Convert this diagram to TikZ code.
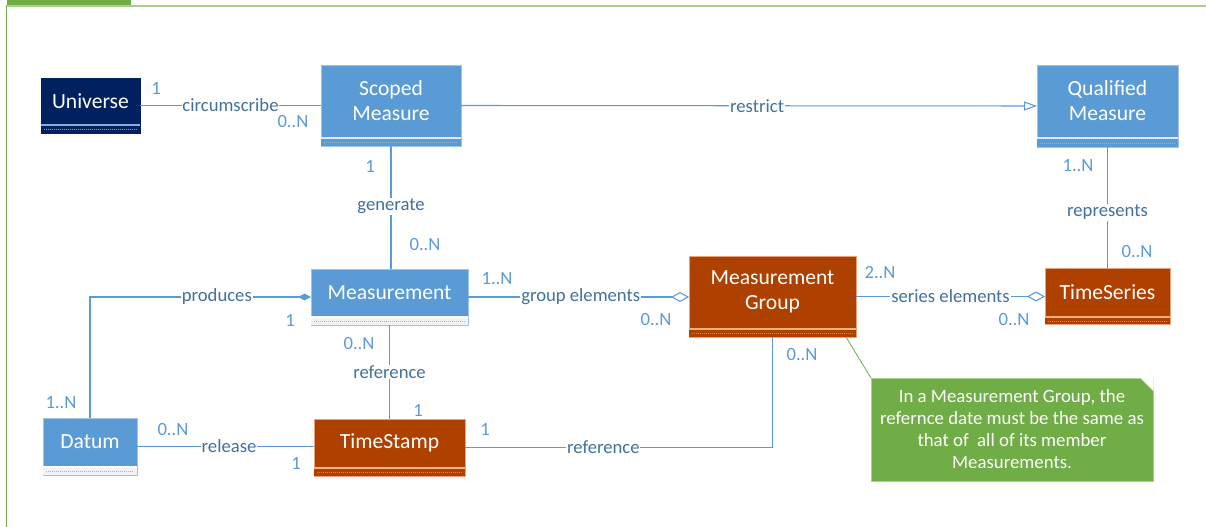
\documentclass[tikz,border=0pt]{standalone}
\usepackage{fontspec}
\setmainfont{Carlito}
\usetikzlibrary{arrows.meta,fit,calc}
\definecolor{lineBlue}{HTML}{5B9BD5}
\definecolor{relText}{HTML}{41719C}
\definecolor{multBlue}{HTML}{5B9BD5}
\definecolor{frameGreen}{HTML}{70AD47}
\definecolor{frameLight}{HTML}{A9D18E}
\definecolor{noteGreen}{HTML}{70AD47}
% navy class
\definecolor{nvBody}{HTML}{002060}
\definecolor{nvStrip}{HTML}{002060}
\definecolor{nvSep}{HTML}{8FAADC}
\definecolor{nvDot}{HTML}{8497B0}
\definecolor{nvEdge}{HTML}{002060}
% blue class, blue strip
\definecolor{blBody}{HTML}{5B9BD5}
\definecolor{blStrip}{HTML}{5B9BD5}
\definecolor{blSep}{HTML}{DEEBF7}
\definecolor{blDot}{HTML}{8FB8E0}
\definecolor{blEdge}{HTML}{9DC3E6}
% blue class, grey strip
\definecolor{bgBody}{HTML}{5B9BD5}
\definecolor{bgStrip}{HTML}{F2F2F2}
\definecolor{bgSep}{HTML}{FFFFFF}
\definecolor{bgDot}{HTML}{9DB9DA}
\definecolor{bgEdge}{HTML}{9DC3E6}
% brown class
\definecolor{brBody}{HTML}{AE4100}
\definecolor{brStrip}{HTML}{AE4100}
\definecolor{brSep}{HTML}{F4B183}
\definecolor{brDot}{HTML}{B98A72}
\definecolor{brEdge}{HTML}{E9A27A}
\tikzset{
  boxfill/.style={inner sep=0pt, outer sep=0pt, line width=0.5pt},
  boxtext/.style={inner sep=0pt, outer sep=0pt, text=white, align=center,
    font=\fontsize{16.2}{18.75}\selectfont},
  conn/.style={draw=lineBlue, line width=0.8pt},
  rel/.style={fill=white, text=relText, inner sep=0.6pt,
    font=\fontsize{14}{16}\selectfont},
  mult/.style={text=multBlue, inner sep=0pt, font=\fontsize{14}{16}\selectfont},
  notebox/.style={fill=noteGreen, draw=frameLight, line width=0.5pt, inner sep=0pt,
    outer sep=0pt, text=white, align=center, font=\fontsize{14.1}{16.5}\selectfont},
  noteline/.style={draw=frameGreen, line width=0.6pt},
  opentri/.style={-{Triangle[open, length=9.75pt, width=6.75pt, fill=white]}},
  opendia/.style={-{Diamond[open, length=13.5pt, width=7.5pt, fill=white]}},
  filldia/.style={-{Diamond[length=9.75pt, width=5pt]}},
}
% #1 name, #2 x1, #3 x2, #4 top, #5 body bottom, #6 strip bottom, #7 kind, #8 text
\newcommand{\umlbox}[8]{%
  \node[boxfill, fill=#7Body, draw=#7Edge, fit={(#2,#4)(#3,#6)}] (#1) {};
  \fill[#7Strip] (#2,#5+2) rectangle (#3,#6);
  \draw[#7Sep, line width=1.2pt] (#2,#5+1) -- (#3,#5+1);
  \draw[#7Dot, densely dotted, line width=0.5pt] (#2+3,{(#5+2+#6)/2}) -- (#3-3,{(#5+2+#6)/2});
  \node[boxtext] (#1T) at ({(#2+#3)/2},{(#4+#5)/2}) {#8};
}
\begin{document}
\begin{tikzpicture}[x=0.75pt, y=-0.75pt]
\useasboundingbox (0,0) rectangle (1206,527);
% frame
\fill[frameGreen] (7,0) rectangle (131,5);
\draw[frameLight, line width=1.4pt] (7,5.7) -- (1206,5.7);
\draw[frameGreen, line width=1.1pt] (6.5,5) -- (6.5,527);

% classes
\umlbox{un}{41}{140}{78}{124}{133}{nv}{Universe}
\umlbox{sm}{321}{461}{65}{137}{146}{bl}{Scoped\\Measure}
\umlbox{qm}{1037}{1178}{65}{137}{147}{bl}{Qualified\\Measure}
\umlbox{me}{311}{468}{269}{316}{325}{bg}{Measurement}
\umlbox{da}{43}{137}{418}{466}{475}{bg}{Datum}
\umlbox{tst}{314}{465}{419}{467}{476}{br}{TimeStamp}
\umlbox{mg}{689}{856}{256}{328}{337}{br}{Measurement\\Group}
\umlbox{ts}{1045}{1170}{268}{316}{324}{br}{TimeSeries}

% note
\node[notebox, minimum width=211.5pt, minimum height=77.25pt] (note) at (1012,429.5)
  {In a Measurement Group, the\\refernce date must be the same as\\that of \ all of its member\\Measurements.};
\fill[white] (1140,377.5) -- (1153.5,377.5) -- (1153.5,391) -- cycle;
\draw[frameLight, line width=0.5pt] (1140,378) -- (1153,391);
\coordinate (mgC) at (846,337);
\draw[noteline] (mgC) -- (note.north west);

% connectors
\draw[conn] (un.east) -- node[rel]{circumscribe} (sm.west);
\draw[conn, opentri] (sm.east) -- node[rel, pos=0.514]{restrict} (qm.west);
\draw[conn] (sm.south) -- node[rel, pos=0.49]{generate} (sm.south |- me.north);
\draw[conn] (qm.south) -- node[rel, pos=0.54]{represents} (qm.south |- ts.north);
\draw[conn, opendia] (me.east) -- node[rel, pos=0.51]{group elements} (me.east -| mg.west);
\draw[conn, opendia] (mg.east) -- node[rel]{series elements} (mg.east -| ts.west);
\draw[conn, filldia] (da.north) |- node[rel, pos=0.787]{produces} (me.west);
\draw[conn] (me.south) -- node[rel]{reference} (me.south |- tst.north);
\draw[conn] (da.east) -- node[rel, pos=0.52]{release} (da.east -| tst.west);
\draw[conn] (tst.east) -| node[rel, pos=0.225]{reference} (mg.south);

% multiplicities
\node[mult] (m1) at (156,88) {1};
\node[mult] (m2) at (293,122) {0..N};
\node[mult] (m3) at (370,166) {1};
\node[mult] (m4) at (425,245) {0..N};
\node[mult] (m5) at (1078,166) {1..N};
\node[mult] (m6) at (1137,252) {0..N};
\node[mult] (m7) at (497,279) {1..N};
\node[mult] (m8) at (656,320) {0..N};
\node[mult] (m9) at (880,273) {2..N};
\node[mult] (m10) at (1014,320) {0..N};
\node[mult] (m11) at (290,320) {1};
\node[mult] (m12) at (61,403) {1..N};
\node[mult] (m13) at (359,344) {0..N};
\node[mult, fill=white, inner sep=1pt] (m14) at (418,410.5) {1};
\node[mult] (m15) at (173,430) {0..N};
\node[mult] (m16) at (296,463) {1};
\node[mult] (m17) at (485,429) {1};
\node[mult] (m18) at (802,355) {0..N};
\end{tikzpicture}
\end{document}
